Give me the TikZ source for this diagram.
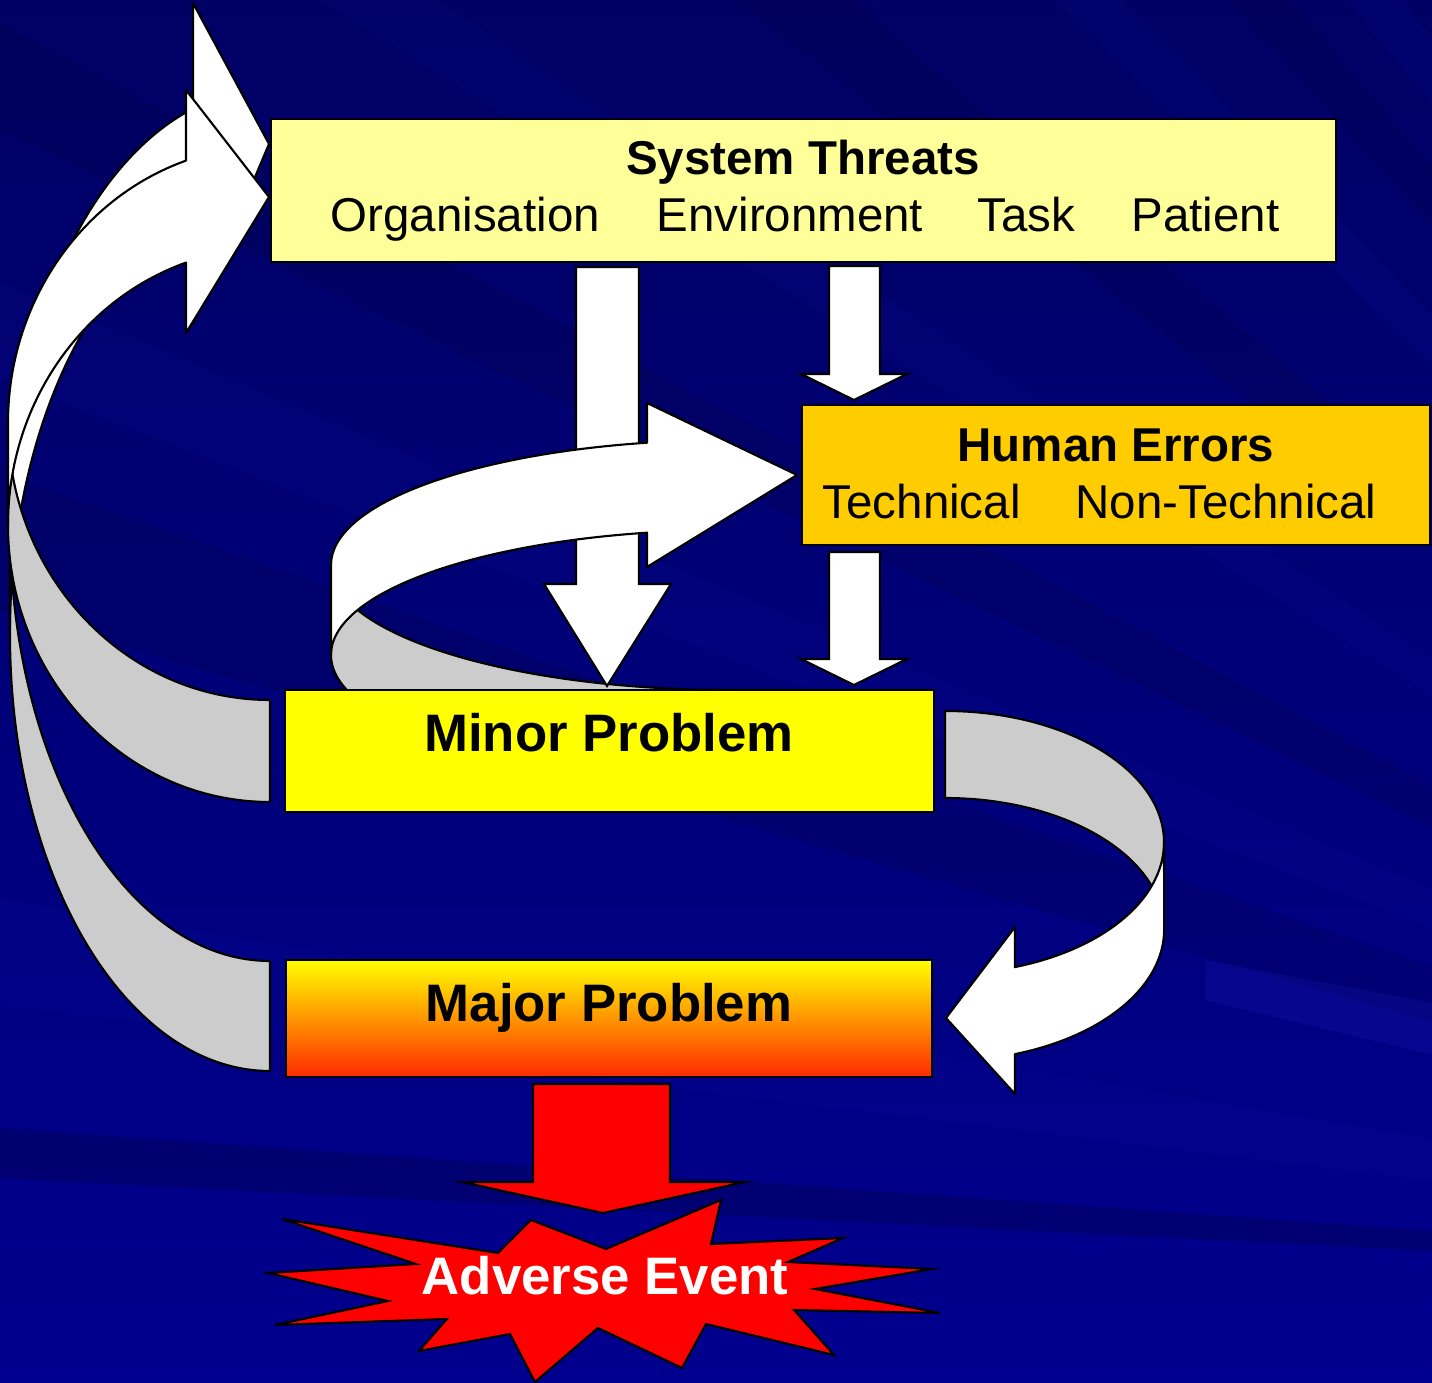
\documentclass[tikz,border=0pt]{standalone}
\usepackage{fontspec}
\setmainfont{Liberation Sans}

\definecolor{navytop}{HTML}{000064}
\definecolor{navybot}{HTML}{00008E}
\definecolor{raylight}{HTML}{2020C0}
\definecolor{raydark}{HTML}{000040}
\definecolor{threatyellow}{HTML}{FFFF99}
\definecolor{erroramber}{HTML}{FFCC00}
\definecolor{minoryellow}{HTML}{FFFF00}
\definecolor{majororange}{HTML}{FFB400}
\definecolor{majorred}{HTML}{FF2A00}
\definecolor{backgrey}{HTML}{CCCCCC}
\definecolor{eventred}{HTML}{FF0000}

\tikzset{
  box/.style={draw=black, line width=0.6pt, inner sep=0pt},
  ribbon/.style={draw=black, line width=0.6pt, line join=round, fill=white},
  backside/.style={ribbon, fill=backgrey},
  headtext/.style={font=\fontsize{13.5}{16}\selectfont\bfseries, inner sep=0pt, anchor=base},
  itemtext/.style={font=\fontsize{13.5}{16}\selectfont, inner sep=0pt, anchor=base west},
  bigtext/.style={font=\fontsize{15}{18}\selectfont\bfseries, inner sep=0pt, anchor=base},
}

\begin{document}
\begin{tikzpicture}[x=0.01cm,y=-0.01cm]
\useasboundingbox (0,0) rectangle (1432,1383);

% background with rays
\begin{scope}
\clip (0,0) rectangle (1432,1383);
\shade[top color=navytop, bottom color=navybot] (0,0) rectangle (1432,1383);
\fill[raydark, opacity=0.3] (2400,1300) -- +(182.9:4000) -- +(184.1:4000) -- cycle; %low band
\fill[raylight, opacity=0.07] (2400,1300) -- +(187:4000) -- +(189.5:4000) -- cycle;
\fill[raydark, opacity=0.2] (2400,1300) -- +(196:4000) -- +(199:4000) -- cycle;
\fill[raylight, opacity=0.07] (2400,1300) -- +(201:4000) -- +(203:4000) -- cycle;
\fill[raydark, opacity=0.2] (2400,1300) -- +(206:4000) -- +(208:4000) -- cycle;
\fill[raylight, opacity=0.07] (2400,1300) -- +(212:4000) -- +(213.5:4000) -- cycle;
\fill[raydark, opacity=0.2] (2400,1300) -- +(218:4000) -- +(220:4000) -- cycle;
\fill[raylight, opacity=0.09] (2400,1300) -- +(224:4000) -- +(225.5:4000) -- cycle;
\fill[raydark, opacity=0.2] (2400,1300) -- +(228:4000) -- +(229.5:4000) -- cycle;
\fill[raylight, opacity=0.09] (2400,1300) -- +(231:4000) -- +(232.5:4000) -- cycle;
\fill[raylight, opacity=0.2] (1205,960) -- (1432,1003) -- (1432,1055) -- (1205,1000) -- cycle; %light streak right
\end{scope}

% feedback from major problem (back then front)
\draw[backside] (270,961) arc[start angle=90, end angle=180, x radius=260, y radius=436] -- (10,635)
  arc[start angle=180, end angle=90, x radius=260, y radius=436] -- cycle;
\draw[ribbon] (10,525) arc[start angle=180, end angle=252.8, x radius=260, y radius=436] -- (193,3) -- (269,144) -- (193,324) -- (193,218.5)
  arc[start angle=252.8, end angle=180, x radius=260, y radius=436] -- cycle;

% feedback from minor problem
\draw[backside] (270,700) arc[start angle=90, end angle=180, x radius=262, y radius=277] -- (8,525)
  arc[start angle=180, end angle=90, x radius=262, y radius=277] -- cycle;
\draw[ribbon] (8,423) arc[start angle=180, end angle=251.3, x radius=262, y radius=277] -- (186,90) -- (269,197) -- (186,333) -- (186,262.6)
  arc[start angle=251.3, end angle=180, x radius=262, y radius=277] -- cycle;

% minor problem -> major problem
\draw[backside] (945,711) arc[start angle=270, end angle=360, x radius=219, y radius=131.5] -- (1164,929.5)
  arc[start angle=360, end angle=270, x radius=219, y radius=131.5] -- cycle;
\draw[ribbon] (1164,842.5) arc[start angle=0, end angle=71.4, x radius=219, y radius=131.5] -- (1015,927) -- (946,1018) -- (1015,1094) -- (1015,1054.1)
  arc[start angle=71.4, end angle=0, x radius=219, y radius=131.5] -- cycle;

% minor problem -> human errors, back part
\draw[backside] (331,565) arc[start angle=180, end angle=90, x radius=399, y radius=125] -- (730,780)
  arc[start angle=90, end angle=180, x radius=399, y radius=125] -- cycle;

% straight block arrows
\draw[ribbon, line join=miter] (576,267) -- (639,267) -- (639,584) -- (671,584) -- (607,686) -- (544,584) -- (576,584) -- cycle; %threats to minor
\draw[ribbon, line join=miter] (829,266) -- (880,266) -- (880,374) -- (907,374) -- (854,400) -- (801,374) -- (829,374) -- cycle; %threats to errors
\draw[ribbon, line join=miter] (829,552) -- (880,552) -- (880,659) -- (907,659) -- (854,685) -- (801,659) -- (829,659) -- cycle; %errors to minor

% minor problem -> human errors, front part
\draw[ribbon] (331,565) arc[start angle=180, end angle=258, x radius=399, y radius=125] -- (647,403) -- (797,475) -- (647,567) -- (647,532.7)
  arc[start angle=258, end angle=180, x radius=399, y radius=125] -- cycle;

% boxes
\node[box, fill=threatyellow, minimum width=10.65cm, minimum height=1.43cm] (threats) at (803.5,190.5) {};
\node[box, fill=erroramber, minimum width=6.28cm, minimum height=1.40cm] (errors) at (1116,475) {};
\node[box, fill=minoryellow, minimum width=6.49cm, minimum height=1.22cm] (minor) at (609.5,751) {};
\node[box, top color=minoryellow, middle color=majororange, bottom color=majorred, minimum width=6.46cm, minimum height=1.17cm] (major) at (609,1018.5) {};

\node[headtext] (threatstitle) at (803,175) {System Threats};
\node[itemtext] (org) at (330,232) {Organisation};
\node[itemtext] (env) at (656,232) {Environment};
\node[itemtext] (task) at (977,232) {Task};
\node[itemtext] (patient) at (1131,232) {Patient};

\node[headtext] (errorstitle) at (1116,462) {Human Errors};
\node[itemtext] (technical) at (822,519) {Technical};
\node[itemtext] (nontechnical) at (1075,519) {Non-Technical};

\node[bigtext] (minortext) at (609,752) {Minor Problem};
\node[bigtext] (majortext) at (609,1022) {Major Problem};

% major problem -> adverse event
\draw[fill=eventred, line width=0.6pt, line join=miter] (533,1084) -- (670,1084) -- (670,1182) -- (745,1182) -- (603,1213) -- (462,1182) -- (533,1182) -- cycle;
\draw[fill=eventred, line width=0.6pt, line join=miter] (282,1219) -- (498,1253) -- (531,1220) -- (606,1249) -- (721,1200) -- (711,1244) -- (843,1238) -- (788,1262)
  -- (932,1269) -- (815,1289) -- (940,1313) -- (794,1310) -- (834,1355) -- (706,1324) -- (682,1368) -- (598,1328) -- (535,1382) -- (510,1334)
  -- (419,1351) -- (447,1319) -- (275,1325) -- (388,1301) -- (268,1273) -- (416,1264) -- cycle; %burst
\node[bigtext, text=white] (adverse) at (605,1295) {Adverse Event};

\end{tikzpicture}
\end{document}
